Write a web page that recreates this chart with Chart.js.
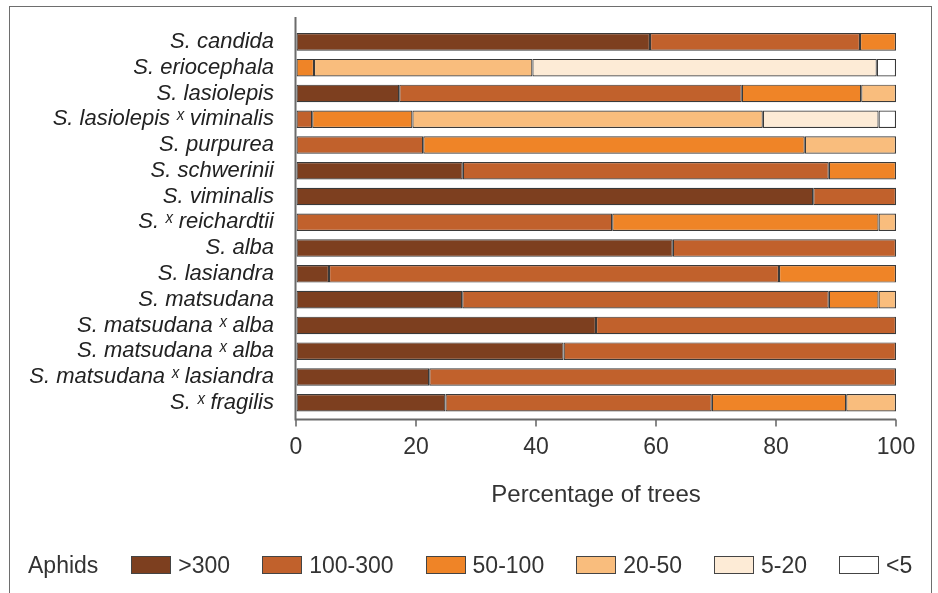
<!DOCTYPE html>
<html>
<head>
<meta charset="utf-8">
<script src="https://cdn.jsdelivr.net/npm/chart.js@4.4.1/dist/chart.umd.min.js"></script>
<style>
  html, body { margin: 0; padding: 0; background: #fff; overflow: hidden; width: 938px; height: 593px; }
  #frame { position: absolute; left: 9px; top: 6px; width: 923px; height: 700px; border: 1px solid #6e6e6e; box-sizing: border-box; }
  #clip { position: absolute; left: 0; top: 0; width: 916px; height: 593px; overflow: hidden; }
  #c { position: absolute; left: 0; top: 0; }
  #legend { position: absolute; left: 28px; top: 556px; display: flex; align-items: center; white-space: nowrap;
            font-family: "Liberation Sans", Arial, sans-serif; font-size: 23px; color: #333; line-height: 18px; }
  #legend .title { margin-right: 33px; }
  #legend .item { display: flex; align-items: center; margin-right: 32px; }
  #legend .box { width: 40px; height: 18px; box-sizing: border-box; border: 1.5px solid #444; margin-right: 7px; }
</style>
</head>
<body>
<div id="frame"></div>
<div id="clip">
  <canvas id="c" width="938" height="593"></canvas>
  <div id="legend"><span class="title">Aphids</span></div>
</div>
<script>
// ---- data ----
const categories = [
  "S. candida",
  "S. eriocephala",
  "S. lasiolepis",
  "S. lasiolepis \u02e3 viminalis",
  "S. purpurea",
  "S. schwerinii",
  "S. viminalis",
  "S. \u02e3 reichardtii",
  "S. alba",
  "S. lasiandra",
  "S. matsudana",
  "S. matsudana \u02e3 alba",
  "S. matsudana \u02e3 alba",
  "S. matsudana \u02e3 lasiandra",
  "S. \u02e3 fragilis"
];
const seriesNames = [">300", "100-300", "50-100", "20-50", "5-20", "<5"];
const over300   = [59,   0,    17.2, 0,    0,    27.8, 86.2, 0,    62.8, 5.5,  27.7, 50,   44.6, 22.2, 24.9];
const r100_300  = [35,   0,    57.1, 2.7,  21.2, 61,   13.8, 52.7, 37.2, 75,   61.1, 50,   55.4, 77.8, 44.4];
const r50_100   = [6,    3,    19.9, 16.7, 63.6, 11.2, 0,    44.4, 0,    19.5, 8.3,  0,    0,    0,    22.4];
const r20_50    = [0,    36.4, 5.8,  58.4, 15.2, 0,    0,    2.9,  0,    0,    2.9,  0,    0,    0,    8.3];
const r5_20     = [0,    57.4, 0,    19.3, 0,    0,    0,    0,    0,    0,    0,    0,    0,    0,    0];
const under5    = [0,    3.2,  0,    2.9,  0,    0,    0,    0,    0,    0,    0,    0,    0,    0,    0];
const xTicks    = [0, 20, 40, 60, 80, 100];
const xTitle    = "Percentage of trees";
const legendTitle = "Aphids";

// ---- styles ----
const seriesColors = ["#7d3f1f", "#c1612c", "#ef8427", "#f9bd7d", "#fdebd6", "#ffffff"];
const seriesValues = [over300, r100_300, r50_100, r20_50, r5_20, under5];
const FONT = "'Liberation Sans', Arial, sans-serif";

const datasets = seriesNames.map((name, i) => ({
  label: name,
  data: seriesValues[i],
  backgroundColor: seriesColors[i],
  borderColor: "#3a3a3a",
  borderWidth: 1.2,
  borderSkipped: false,
  categoryPercentage: 1,
  barPercentage: 0.68
}));

const axisLines = {
  id: "axisLines",
  afterDraw(chart) {
    const { ctx, chartArea: a, scales: { x } } = chart;
    const yb = a.bottom + 4;
    ctx.save();
    ctx.strokeStyle = "#6b6b6b";
    ctx.lineWidth = 2;
    ctx.beginPath();
    ctx.moveTo(a.left - 0.5, a.top - 12);
    ctx.lineTo(a.left - 0.5, yb);
    ctx.lineTo(a.right, yb);
    ctx.stroke();
    ctx.lineWidth = 1.6;
    x.ticks.forEach(t => {
      const px = x.getPixelForValue(t.value);
      ctx.beginPath();
      ctx.moveTo(px, yb);
      ctx.lineTo(px, yb + 7);
      ctx.stroke();
    });
    ctx.restore();
  }
};

new Chart(document.getElementById("c"), {
  type: "bar",
  data: { labels: categories, datasets },
  options: {
    indexAxis: "y",
    responsive: false,
    animation: false,
    layout: { padding: { top: 29, right: 42, left: 0, bottom: 83 } },
    plugins: { legend: { display: false }, tooltip: { enabled: false } },
    scales: {
      x: {
        stacked: true,
        min: 0, max: 100,
        afterBuildTicks: s => { s.ticks = xTicks.map(v => ({ value: v })); },
        ticks: { font: { family: FONT, size: 23 }, color: "#333", padding: 7, maxRotation: 0 },
        grid: { display: true, drawOnChartArea: false, tickLength: 11, color: "rgba(0,0,0,0)", tickColor: "rgba(0,0,0,0)" },
        border: { display: false },
        title: { display: true, text: xTitle, font: { family: FONT, size: 24 }, color: "#333", padding: { top: 13, bottom: 0 } }
      },
      y: {
        stacked: true,
        afterFit: s => { s.width = 296; },
        ticks: { font: { family: FONT, size: 22, style: "italic" }, color: "#222", padding: 14, autoSkip: false },
        grid: { display: false },
        border: { display: false }
      }
    }
  },
  plugins: [axisLines]
});

// legend (HTML) built from the series arrays
const lg = document.getElementById("legend");
lg.querySelector(".title").textContent = legendTitle;
seriesNames.forEach((name, i) => {
  const item = document.createElement("span");
  item.className = "item";
  const box = document.createElement("span");
  box.className = "box";
  box.style.background = seriesColors[i];
  const txt = document.createElement("span");
  txt.textContent = name;
  item.appendChild(box);
  item.appendChild(txt);
  lg.appendChild(item);
});
</script>
</body>
</html>
